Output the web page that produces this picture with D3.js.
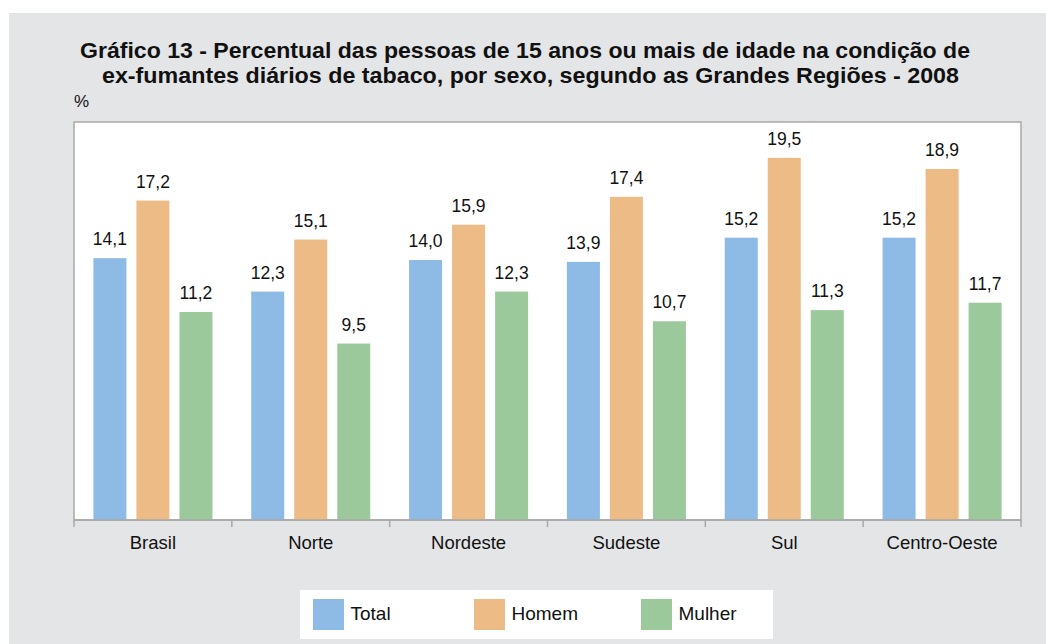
<!DOCTYPE html>
<html><head><meta charset="utf-8">
<script src="https://cdn.jsdelivr.net/npm/d3@7"></script>
<style>
html,body{margin:0;padding:0;background:#fff;}
svg{display:block;font-family:"Liberation Sans",Arial,sans-serif;}
</style></head>
<body>
<svg id="chart" width="1046" height="644"></svg>
<script>
const titleLines = [
  "Gráfico 13 - Percentual das pessoas de 15 anos ou mais de idade na condição de",
  "ex-fumantes diários de tabaco, por sexo, segundo as Grandes Regiões - 2008"
];
const categories = ["Brasil", "Norte", "Nordeste", "Sudeste", "Sul", "Centro-Oeste"];
const seriesNames = ["Total", "Homem", "Mulher"];
const totalValues = [14.1, 12.3, 14.0, 13.9, 15.2, 15.2];
const homemValues = [17.2, 15.1, 15.9, 17.4, 19.5, 18.9];
const mulherValues = [11.2, 9.5, 12.3, 10.7, 11.3, 11.7];
const colors = ["#8ebbe6", "#ecbb86", "#9cc99c"];
const unitLabel = "%";

const seriesValues = [totalValues, homemValues, mulherValues];
const svg = d3.select("#chart");

// background panel
svg.append("rect").attr("x", 9).attr("y", 13).attr("width", 1037).attr("height", 631).attr("fill", "#e4e5e7");

const plot = {left: 74, right: 1021, top: 122, bottom: 520};

// title
const titleSpecs = [{cx: 525, y: 58, w: 890}, {cx: 530.5, y: 83, w: 857}];
titleLines.forEach((t, i) => {
  svg.append("text")
    .attr("x", titleSpecs[i].cx).attr("y", titleSpecs[i].y)
    .attr("text-anchor", "middle")
    .attr("font-size", 21.5).attr("font-weight", "bold").attr("fill", "#111")
    .attr("textLength", titleSpecs[i].w).attr("lengthAdjust", "spacingAndGlyphs")
    .text(t);
});

svg.append("text").attr("x", 74).attr("y", 107).attr("font-size", 17).attr("fill", "#111").text(unitLabel);

// plot area
svg.append("rect").attr("x", plot.left).attr("y", plot.top)
  .attr("width", plot.right - plot.left).attr("height", plot.bottom - plot.top)
  .attr("fill", "#fff").attr("stroke", "#a8a8a8").attr("stroke-width", 1.5);

const x0 = d3.scaleBand().domain(categories).range([plot.left, plot.right]).padding(0);
const cw = x0.bandwidth();
const x1 = d3.scaleBand().domain(seriesNames).range([19.4, cw - 19.4]).paddingInner(10 / 43).paddingOuter(0);
const y = d3.scaleLinear().domain([0, 21.43]).range([plot.bottom, plot.top]);

const data = [];
categories.forEach((c, ci) => seriesNames.forEach((s, si) => data.push({c, s, si, v: seriesValues[si][ci]})));

svg.append("g").selectAll("rect").data(data).join("rect")
  .attr("x", d => x0(d.c) + x1(d.s))
  .attr("y", d => y(d.v))
  .attr("width", x1.bandwidth())
  .attr("height", d => y(0) - y(d.v))
  .attr("fill", d => colors[d.si]);

svg.append("g").selectAll("text").data(data).join("text")
  .attr("x", d => x0(d.c) + x1(d.s) + x1.bandwidth() / 2)
  .attr("y", d => y(d.v) - 13)
  .attr("text-anchor", "middle")
  .attr("font-size", 17.5).attr("fill", "#111")
  .text(d => d.v.toFixed(1).replace(".", ","));

// x axis
const axis = svg.append("g").attr("transform", `translate(0,${plot.bottom})`);
axis.append("line").attr("x1", plot.left).attr("x2", plot.right).attr("stroke", "#a8a8a8").attr("stroke-width", 1.5);
const boundaries = categories.map(c => x0(c)).concat([plot.right]);
axis.selectAll("line.tick").data(boundaries).join("line").attr("class", "tick")
  .attr("x1", d => d).attr("x2", d => d).attr("y1", 0).attr("y2", 7)
  .attr("stroke", "#a8a8a8").attr("stroke-width", 1.5);
axis.selectAll("text").data(categories).join("text")
  .attr("x", d => x0(d) + cw / 2).attr("y", 29)
  .attr("text-anchor", "middle").attr("font-size", 18.5).attr("fill", "#111")
  .text(d => d);

// legend
svg.append("rect").attr("x", 300).attr("y", 590).attr("width", 473).attr("height", 49).attr("fill", "#fff");
const legendX = [313, 474, 641];
const lg = svg.append("g").selectAll("g").data(seriesNames).join("g")
  .attr("transform", (d, i) => `translate(${legendX[i]},599)`);
lg.append("rect").attr("width", 31).attr("height", 31).attr("fill", (d, i) => colors[i]);
lg.append("text").attr("x", 37.5).attr("y", 21).attr("font-size", 19).attr("fill", "#111").text(d => d);
</script>
</body></html>
